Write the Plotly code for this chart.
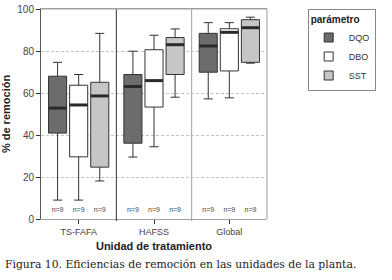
import plotly.graph_objects as go

units = ["TS-FAFA", "HAFSS", "Global"]
params = ["DQO", "DBO", "SST"]
colors = ["#6c6c6c", "#ffffff", "#c6c6c6"]

# stats per parameter, per unit
lowf = {"DQO": [9.0, 29.5, 57.2], "DBO": [9.0, 34.4, 57.7], "SST": [18.1, 58.0, 74.2]}
q1 = {"DQO": [40.9, 36.1, 69.9], "DBO": [29.6, 53.3, 70.5], "SST": [24.7, 68.8, 74.6]}
med = {"DQO": [52.8, 63.1, 82.4], "DBO": [54.3, 65.9, 88.9], "SST": [58.6, 83.0, 91.1]}
q3 = {"DQO": [68.0, 68.8, 88.4], "DBO": [63.7, 80.6, 90.6], "SST": [65.1, 86.4, 94.9]}
upf = {"DQO": [74.6, 79.9, 93.5], "DBO": [68.8, 87.5, 93.5], "SST": [88.4, 90.5, 96.1]}
n_labels = ["n=9"] * 3

offsets = [-0.28, 0.0, 0.28]
bw = 0.24

fig = go.Figure()
for p, c, off in zip(params, colors, offsets):
    xs = [i + off for i in range(len(units))]
    fig.add_trace(go.Box(
        name=p, x=xs, q1=q1[p], median=med[p], q3=q3[p],
        lowerfence=lowf[p], upperfence=upf[p], width=bw,
        fillcolor=c, line=dict(color="#333333", width=1),
        whiskerwidth=0.5, boxpoints=False, showlegend=False,
    ))
for p, off in zip(params, offsets):
    xs = [i + off for i in range(len(units))]
    fig.add_trace(go.Scatter(
        x=xs, y=med[p], mode="markers", showlegend=False, hoverinfo="skip",
        marker=dict(symbol="line-ew", size=12.9, line=dict(color="#2a2a2a", width=3)),
    ))
    fig.add_trace(go.Scatter(
        x=xs, y=[4.4] * len(units), mode="text", text=n_labels, showlegend=False,
        textfont=dict(family="Liberation Sans", size=7, color="#444444"),
    ))
# legend entries
for p, c in zip(params, colors):
    fig.add_trace(go.Scatter(
        x=[None], y=[None], mode="markers", name=p,
        marker=dict(symbol="square", size=9, color=c, line=dict(color="#333333", width=1)),
    ))

fig.add_shape(type="line", xref="x", yref="paper", x0=0.5, x1=0.5, y0=-0.01, y1=1,
              line=dict(color="#333333", width=1))
fig.add_shape(type="line", xref="x", yref="paper", x0=1.5, x1=1.5, y0=-0.01, y1=1,
              line=dict(color="#a0a0a0", width=1))

fig.add_annotation(text="Figura 10. Eficiencias de remoción en las unidades de la planta.",
                   xref="paper", yref="paper", x=-0.168, y=-0.215, xanchor="left", yanchor="middle",
                   showarrow=False, font=dict(family="DejaVu Serif", size=10.8, color="#222222"))

fig.update_layout(
    width=392, height=280, margin=dict(l=41, r=125, t=9, b=61),
    paper_bgcolor="white", plot_bgcolor="white",
    font=dict(family="Liberation Sans", size=9, color="#333333"),
    legend=dict(title=dict(text="<b>parámetro</b>", font=dict(size=10, color="#222")),
                x=1.18, y=1.0, xanchor="left", yanchor="top",
                bordercolor="#888888", borderwidth=1, font=dict(size=9),
                itemwidth=30, tracegroupgap=0),
    showlegend=True,
)
fig.update_xaxes(range=[-0.5, 2.5], tickvals=[0, 1, 2], ticktext=units, showgrid=False,
                 zeroline=False, ticks="outside", ticklen=4, tickcolor="#333",
                 showline=True, linecolor="#a0a0a0", mirror=True, automargin=False,
                 title=dict(text="<b>Unidad de tratamiento</b>", font=dict(size=11, color="#222"), standoff=6),
                 tickfont=dict(size=9, color="#444"))
fig.update_yaxes(range=[0, 100], dtick=20, showgrid=True, gridcolor="#c4c4c4", griddash="3px,2px",
                 zeroline=False, ticks="outside", ticklen=4, tickcolor="#333",
                 showline=True, linecolor="#555555", mirror=False, automargin=False,
                 title=dict(text="<b>% de remoción</b>", font=dict(size=11, color="#222"), standoff=4),
                 tickfont=dict(size=10, color="#444"))
fig.add_shape(type="line", xref="paper", yref="paper", x0=0, x1=1, y0=1, y1=1,
              line=dict(color="#a0a0a0", width=1))
fig.add_shape(type="line", xref="paper", yref="paper", x0=1, x1=1, y0=0, y1=1,
              line=dict(color="#a0a0a0", width=1))

fig.write_html("out.html", config={"displayModeBar": False},
               post_script="document.body.style.margin='0px';")
